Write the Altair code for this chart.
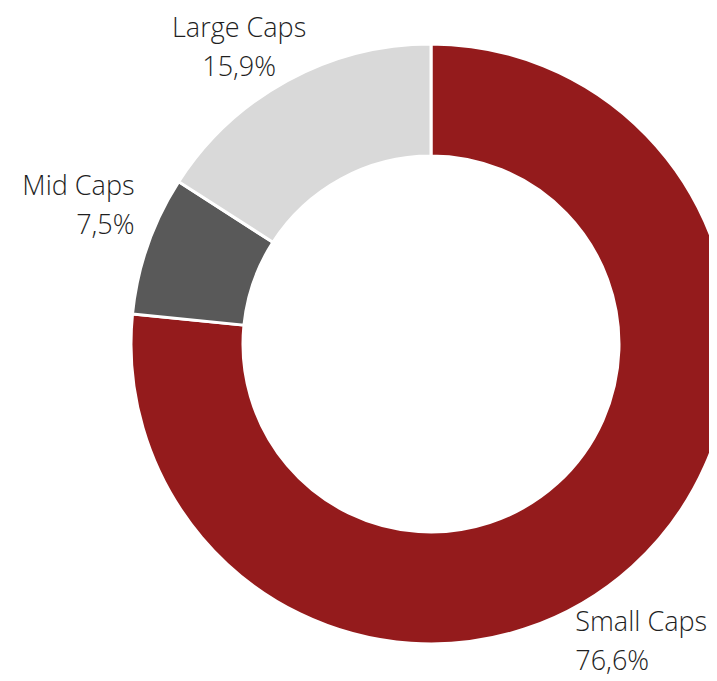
import altair as alt
import pandas as pd

categories = ["Small Caps", "Mid Caps", "Large Caps"]
values = [76.6, 7.5, 15.9]
value_labels = ["76,6%", "7,5%", "15,9%"]
colors = ["#941B1C", "#595959", "#D9D9D9"]

df = pd.DataFrame({
    "category": categories,
    "value": values,
    "label": [f"{c}\n{v}" for c, v in zip(categories, value_labels)],
    "order": list(range(len(categories))),
})

CX, CY = 423, 336
FONT = "Open Sans"

base = alt.Chart(df)

arc = base.mark_arc(
    outerRadius=300, innerRadius=188, stroke="white", strokeWidth=3
).encode(
    theta=alt.Theta("value:Q", stack=True, scale=alt.Scale(domain=[0, 100])),
    order=alt.Order("order:Q"),
    color=alt.Color("category:N", scale=alt.Scale(domain=categories, range=colors), legend=None),
    x=alt.value(CX),
    y=alt.value(CY),
)

label_base = base.transform_window(
    cum="sum(value)", sort=[alt.SortField("order")], frame=[None, 0]
).transform_calculate(
    mid="datum.cum - datum.value / 2"
)

def label_layer(cat, align, radius, dx, dy):
    return label_base.transform_filter(
        alt.datum.category == cat
    ).mark_text(
        align=align, baseline="middle", radius=radius, dx=dx, dy=dy,
        font=FONT, fontSize=27, fontWeight=300, lineHeight=39, lineBreak="\n", color="#1F1F1F"
    ).encode(
        theta=alt.Theta("mid:Q", stack=None, scale=alt.Scale(domain=[0, 100], range=[0, 6.283185307])),
        text="label:N",
        x=alt.value(CX),
        y=alt.value(CY),
    )

labels = alt.layer(
    label_layer("Large Caps", "center", 340, -29, -17),
    label_layer("Mid Caps", "right", 314, 0, -53),
    label_layer("Small Caps", "left", 400, -124, -18),
)

chart = alt.layer(arc, labels).properties(
    width=701, height=673, autosize=alt.AutoSizeParams(type="none"), padding=0
).configure_view(stroke=None)

chart.save("out.html", embed_options={"renderer": "svg", "actions": False})
